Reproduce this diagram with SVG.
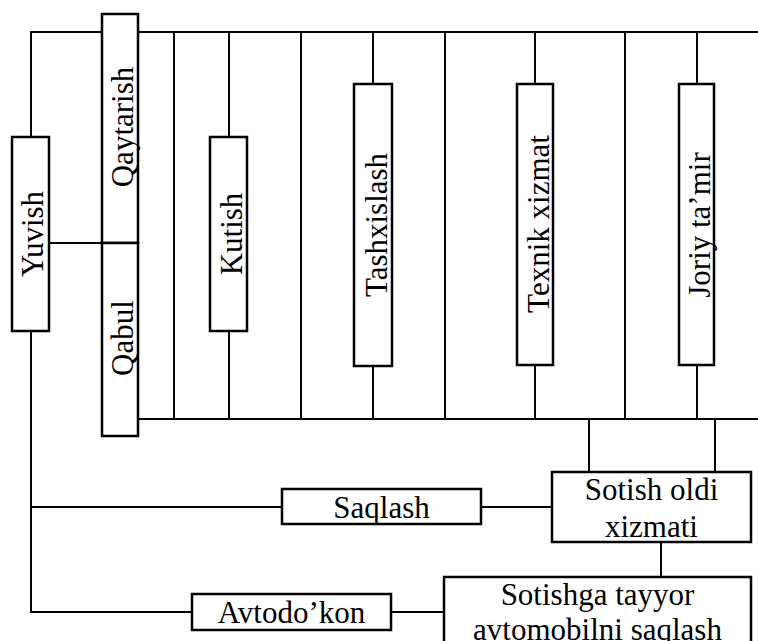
<svg xmlns="http://www.w3.org/2000/svg" width="758" height="641" viewBox="0 0 758 641">
<style>
.ln{stroke:#000;stroke-width:2;fill:none}
.bx{fill:#fff;stroke:#000;stroke-width:2.5}
text{font-family:'Liberation Serif','Times New Roman',serif;font-size:31px;fill:#000;text-anchor:middle}
</style>
<rect width="758" height="641" fill="#fff"/>
<g id="connectors">
<path class="ln" d="M31,137 V32 H758"/>
<path class="ln" d="M138,419 H758"/>
<path class="ln" d="M174,32 V419 M301,32 V419 M445,32 V419 M625,32 V419"/>
<path class="ln" d="M229,32 V419 M373,32 V419 M535,32 V419 M697,32 V419"/>
<path class="ln" d="M49,243 H102"/>
<path class="ln" d="M31,331 V612 H192"/>
<path class="ln" d="M31,507 H282 M481,507 H552"/>
<path class="ln" d="M589,419 V472 M715,419 V472"/>
<path class="ln" d="M661,542 V577"/>
<path class="ln" d="M391,612 H444"/>
</g>
<g id="yuvish"><rect class="bx" x="12" y="137" width="37" height="194"/><text transform="translate(43,234) rotate(-90)">Yuvish</text></g>
<g id="qaytarish"><rect class="bx" x="102" y="14" width="36" height="229"/><text transform="translate(133,127) rotate(-90)">Qaytarish</text></g>
<g id="qabul"><rect class="bx" x="102" y="243" width="36" height="193"/><text transform="translate(133,338) rotate(-90)">Qabul</text></g>
<g id="kutish"><rect class="bx" x="210" y="137" width="37" height="194"/><text transform="translate(242,234) rotate(-90)">Kutish</text></g>
<g id="tashxislash"><rect class="bx" x="354" y="84" width="38" height="282"/><text transform="translate(387,225) rotate(-90)">Tashxislash</text></g>
<g id="texnik"><rect class="bx" x="517" y="84" width="36" height="281"/><text transform="translate(549,224) rotate(-90)">Texnik xizmat</text></g>
<g id="joriy"><rect class="bx" x="679" y="84" width="35" height="281"/><text transform="translate(710,225) rotate(-90)">Joriy ta’mir</text></g>
<g id="saqlash"><rect class="bx" x="282" y="489" width="199" height="35"/><text x="381.5" y="518">Saqlash</text></g>
<g id="sotish-oldi"><rect class="bx" x="552" y="472" width="199" height="70"/><text x="651.5" y="500">Sotish oldi</text><text x="651.5" y="537">xizmati</text></g>
<g id="avtodokon"><rect class="bx" x="192" y="594" width="199" height="36"/><text x="291.5" y="623">Avtodo’kon</text></g>
<g id="sotishga"><rect class="bx" x="444" y="577" width="307" height="90"/><text x="597.5" y="605">Sotishga tayyor</text><text x="597.5" y="640">avtomobilni saqlash</text></g>
</svg>
